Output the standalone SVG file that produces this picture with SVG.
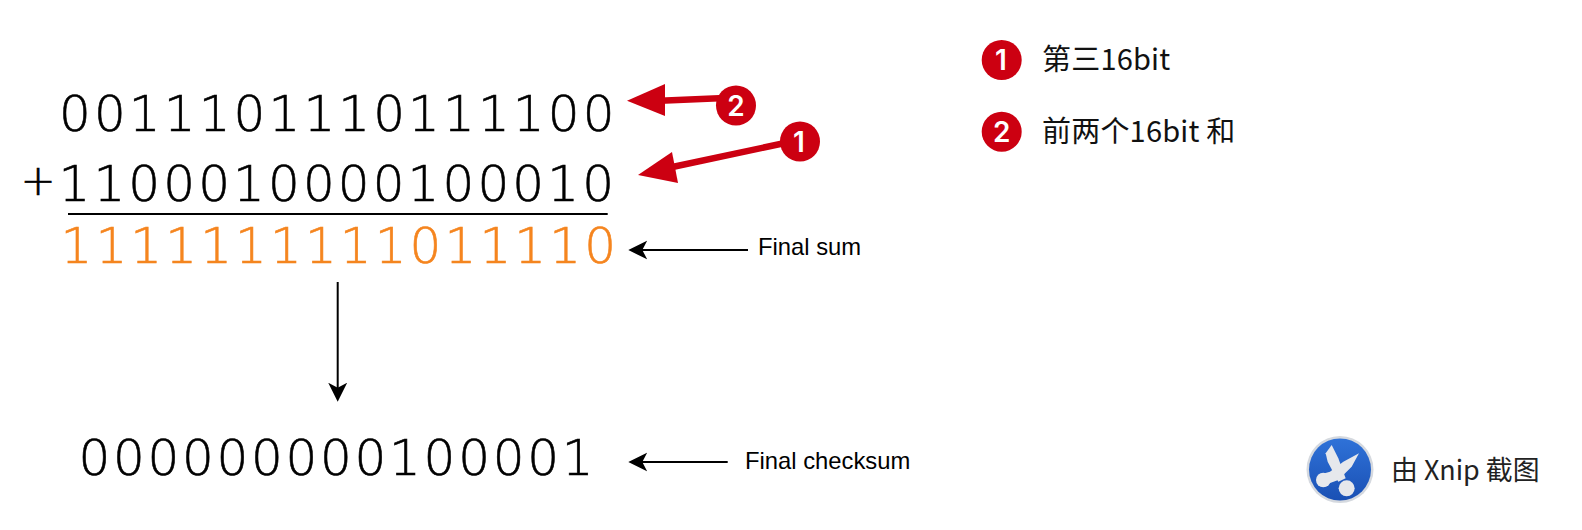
<svg xmlns="http://www.w3.org/2000/svg" width="1582" height="530" viewBox="0 0 1582 530">
<defs>
<style>
.bits{font-family:"DejaVu Sans",sans-serif;font-weight:200;font-size:50px;letter-spacing:3.1px;fill:#000;stroke:#000;stroke-width:.6}
.sum{fill:#f5851f;stroke:#f5851f}
.lab{font-family:"Liberation Sans",Arial,sans-serif;font-size:23.8px;fill:#000}
.cjk{font-family:"Noto Sans CJK SC",sans-serif;font-size:29px;letter-spacing:.2px;fill:#111}
.num{font-family:Inter,"Liberation Sans",sans-serif;font-size:28px;font-weight:600;fill:#fff;text-anchor:middle}
.red{fill:#cc0011}
.redl{stroke:#cc0011;stroke-width:6.500;fill:none}
.blk{stroke:#000;stroke-width:2;fill:none}
.cut{fill:#e6e8ec}
</style>
<linearGradient id="blue" x1="0" y1="0" x2="0" y2="1"><stop offset="0" stop-color="#2f72d8"/><stop offset="1" stop-color="#1a50b4"/></linearGradient>
<marker id="ah" markerUnits="userSpaceOnUse" markerWidth="20" markerHeight="20" refX="15" refY="10" orient="auto"><path d="M0 .5L19 10L0 19.500L5 10Z" fill="#000"/></marker>
</defs>
<rect width="1582" height="530" fill="#fff"/>
<g id="connectors">
<path class="blk" d="M748 250H632.300" marker-end="url(#ah)"/>
<path class="blk" d="M727.700 462H632.300" marker-end="url(#ah)"/>
<path class="blk" d="M337.700 282V397.700" marker-end="url(#ah)"/>
<path d="M68 214H607.700" stroke="#000" stroke-width="2" fill="none"/>
<path class="redl" d="M660 100.700L725 98"/>
<path class="red" d="M627 100.700L665 84V116Z"/>
<path class="redl" d="M670 167.500L785 143"/>
<path class="red" d="M638 175L672 152L678 183Z"/>
</g>
<g id="row1"><text class="bits" x="59" y="131">0011101110111100</text></g>
<g id="row2"><text class="bits" x="20.500" y="195" style="font-size:42px">+</text><text class="bits" x="58.500" y="201">1100010000100010</text></g>
<g id="row3"><text class="bits sum" x="60.500" y="263">1111111111011110</text></g>
<g id="row4"><text class="bits" x="78.500" y="474.500" style="letter-spacing:2.700px">000000000100001</text></g>
<g id="label-sum"><text class="lab" x="758" y="255">Final sum</text></g>
<g id="label-checksum"><text class="lab" x="745" y="469">Final checksum</text></g>
<g id="badge2"><circle class="red" cx="736" cy="105.500" r="20"/><text class="num" x="736" y="115.500">2</text></g>
<g id="badge1"><circle class="red" cx="800" cy="141.500" r="20"/><text class="num" x="799" y="151.500">1</text></g>
<g id="legend1"><circle class="red" cx="1001.700" cy="60" r="20"/><text class="num" x="1001" y="70">1</text><text class="cjk" x="1042" y="70">第三16bit</text></g>
<g id="legend2"><circle class="red" cx="1001.700" cy="131.700" r="20"/><text class="num" x="1001.700" y="141.700">2</text><text class="cjk" x="1042" y="141.700">前两个16bit 和</text></g>
<g id="xnip">
<circle cx="1340" cy="469.500" r="33.500" fill="#d5d9df"/>
<circle cx="1340" cy="469.500" r="31" fill="url(#blue)"/>
<g transform="translate(1285 425) scale(.3333)">
<path class="cut" d="M140 60L122 85L128 110L160 170L182 160L160 100Z"/>
<path class="cut" d="M222 85L175 110L135 140L100 150L125 178L160 165L200 125Z"/>
<circle class="cut" cx="115" cy="165" r="22"/>
<circle class="cut" cx="185" cy="190" r="24"/>
</g>
<text class="cjk" x="1391" y="480" style="font-size:26.900px;letter-spacing:0;fill:#222">由 Xnip 截图</text>
</g>
</svg>
